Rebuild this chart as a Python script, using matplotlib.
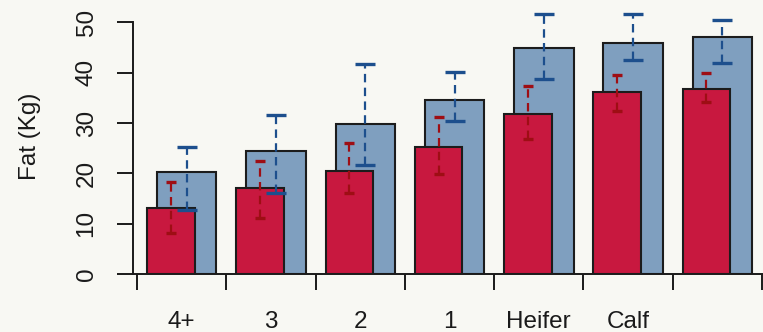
import matplotlib
matplotlib.use("Agg")
import matplotlib.pyplot as plt
import numpy as np

# Group labels (last group carries no label)
categories = ["4+", "3", "2", "1", "Heifer", "Calf", ""]

# Front (red) series: means and interval limits, kg fat
red_mean = [13.2, 17.0, 20.5, 25.3, 31.9, 36.1, 36.8]
red_upper = [18.3, 22.5, 26.1, 31.2, 37.4, 39.5, 40.0]
red_lower = [8.2, 11.1, 16.2, 19.9, 26.8, 32.5, 34.1]

# Back (blue) series: means and interval limits, kg fat
blue_mean = [20.2, 24.5, 29.8, 34.6, 44.9, 46.0, 47.2]
blue_upper = [25.3, 31.7, 41.7, 40.1, 51.7, 51.7, 50.4]
blue_lower = [12.8, 16.2, 21.7, 30.4, 38.8, 42.5, 41.9]

y_ticks = [0, 10, 20, 30, 40, 50]

BG = "#f8f8f3"
RED = "#c8183f"
BLUE = "#7f9fbf"
RED_ERR = "#9e0e14"
BLUE_ERR = "#1d4f8d"
EDGE = "#1c1c1c"
INK = "#1a1a1a"

plt.rcParams["font.family"] = ["Liberation Sans", "DejaVu Sans"]
plt.rcParams["font.size"] = 17.5

fig = plt.figure(figsize=(7.63, 3.32), dpi=100, facecolor=BG)
ax = fig.add_axes([0.1743, 0.1747, 0.8267, 0.8334], facecolor=BG)

n = len(categories)
x0 = np.arange(n)

red_off, red_w = 0.112, 0.532
blue_off, blue_w = 0.224, 0.666

ax.bar(x0 + blue_off, blue_mean, width=blue_w, align="edge", color=BLUE,
       edgecolor=EDGE, linewidth=1.5, zorder=2)
ax.bar(x0 + red_off, red_mean, width=red_w, align="edge", color=RED,
       edgecolor=EDGE, linewidth=1.5, zorder=3)


def draw_interval(xc, mean, lower, upper, color, capsize):
    mean = np.asarray(mean)
    yerr = np.vstack([mean - np.asarray(lower), np.asarray(upper) - mean])
    eb = ax.errorbar(xc, mean, yerr=yerr, fmt="none", ecolor=color,
                     elinewidth=1.6, capsize=capsize, capthick=2.4, zorder=5)
    for lc in eb.lines[2]:
        lc.set_linestyle((0, (3.8, 2.4)))


draw_interval(x0 + red_off + red_w / 2, red_mean, red_lower, red_upper,
              RED_ERR, 3.8)
draw_interval(x0 + blue_off + blue_w / 2, blue_mean, blue_lower, blue_upper,
              BLUE_ERR, 7.0)

ax.set_xlim(-0.045, 7.02)
ax.set_ylim(0, 55)

for s in ("top", "right"):
    ax.spines[s].set_visible(False)
ax.spines["left"].set_bounds(0, 50)
for s in ("left", "bottom"):
    ax.spines[s].set_linewidth(1.4)
    ax.spines[s].set_color(INK)

ax.set_yticks(y_ticks)
ax.set_yticklabels([str(v) for v in y_ticks], rotation=90, va="center")
ax.tick_params(axis="y", length=11.5, width=1.4, pad=14, color=INK,
               labelcolor=INK)

ax.set_xticks(np.arange(n + 1))
ax.set_xticklabels([""] * (n + 1))
ax.set_xticks(x0 + 0.5, minor=True)
ax.set_xticklabels(categories, minor=True)
ax.tick_params(axis="x", which="major", length=11.5, width=1.4, color=INK)
ax.tick_params(axis="x", which="minor", length=0, pad=27, labelcolor=INK)

fig.text(30 / 763, 1 - 136 / 332, "Fat (Kg)", rotation=90, ha="center",
         va="center", color=INK)

fig.savefig("out.png", dpi=100, facecolor=BG)
